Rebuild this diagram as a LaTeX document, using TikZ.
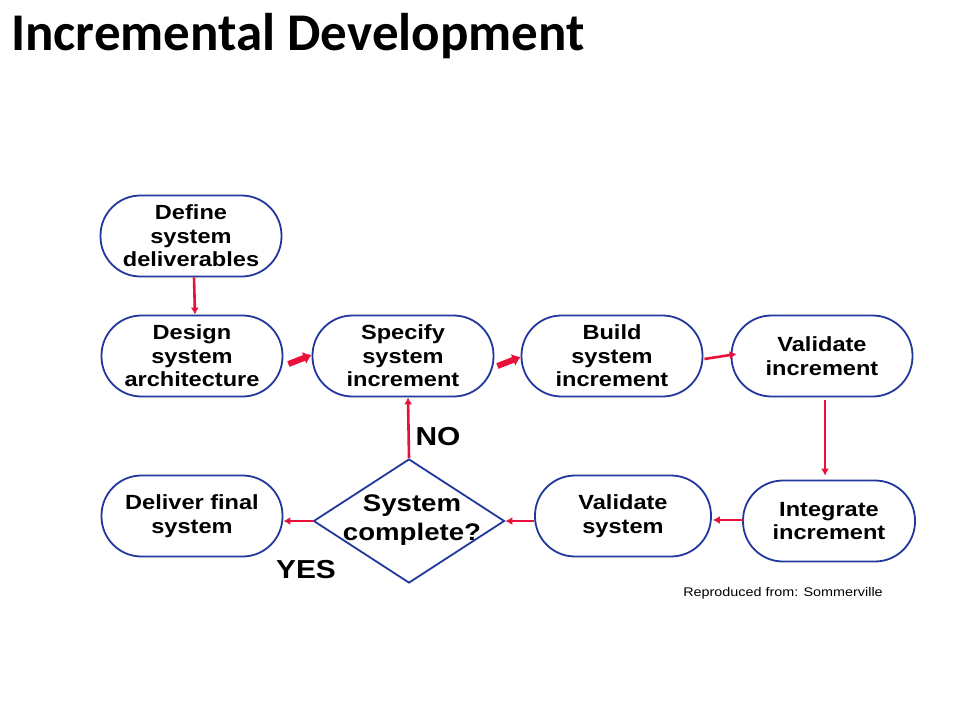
\documentclass[tikz,border=0pt]{standalone}
\usepackage{fontspec}
\setmainfont[FakeStretch=1.15]{Liberation Sans}
\newfontfamily\titlefont{Carlito}
\usetikzlibrary{shapes.geometric,arrows.meta}
\definecolor{boxblue}{RGB}{32,56,156}
\definecolor{arrred}{RGB}{232,17,58}
\tikzset{
  stepbox/.style={draw=boxblue, line width=1.8pt, rounded corners=40pt,
    minimum width=181pt, minimum height=81pt, inner sep=0pt, align=center,
    font=\bfseries\fontsize{20.5}{23.5}\selectfont, fill=white},
  decbox/.style={draw=boxblue, line width=1.8pt, diamond, minimum width=191pt,
    minimum height=124pt, inner sep=0pt},
  thinarr/.style={draw=arrred, line width=2.6pt, -{Latex[length=7pt,width=8pt]}},
  thickarr/.style={draw=arrred, line width=6pt, -{Latex[length=8pt,width=13pt]}},
  lbl/.style={font=\bfseries\fontsize{26}{30}\selectfont}
}
\begin{document}
\begin{tikzpicture}[x=1pt,y=-1pt]
\useasboundingbox (0,0) rectangle (960,720);
\fill[white] (0,0) rectangle (960,720);

\node[anchor=base west, font=\titlefont\bfseries\fontsize{53}{56}\selectfont, inner sep=0pt] (title) at (11,50) {Incremental Development};

\node[stepbox] (define) at (191,236) {Define\\system\\deliverables};
\node[stepbox] (design) at (192,356) {Design\\system\\architecture};
\node[stepbox] (specify) at (403,356) {Specify\\system\\increment};
\node[stepbox] (build) at (612,356) {Build\\system\\increment};
\node[stepbox] (valinc) at (822,356) {Validate\\increment};
\node[stepbox, minimum width=172pt] (integ) at (829,521) {Integrate\\increment};
\node[stepbox, minimum width=176pt] (valsys) at (623,516) {Validate\\system};
\node[stepbox] (deliver) at (192,516) {Deliver final\\system};
\node[decbox] (dec) at (409,521) {};
\node[align=center, font=\bfseries\fontsize{24}{29}\selectfont, inner sep=0pt] (dectext) at (412,520) {System\\complete?};

\node[lbl] (no) at (438,437) {NO};
\node[lbl] (yes) at (306,570) {YES};
\node[font=\fontsize{12.5}{14}\selectfont] (credit) at (783,593) {Reproduced from: Sommerville};

\draw[thinarr] ([xshift=3pt]define.south) -- ([xshift=3pt]design.north);
\draw[thickarr] ([xshift=5pt,yshift=-8pt]design.east) -- ([yshift=1pt]specify.west);
\draw[thickarr] ([xshift=3pt,yshift=-10pt]specify.east) -- ([yshift=-1pt]build.west);
\draw[thinarr] ([xshift=1pt,yshift=-3pt]build.east) -- ([xshift=6pt,yshift=2pt]valinc.west);
\draw[thinarr] ([xshift=3pt,yshift=-3pt]valinc.south) -- ([xshift=-4pt,yshift=4pt]integ.north);
\draw[thinarr] ([xshift=2pt,yshift=1pt]integ.west) -- ([xshift=1pt,yshift=-4pt]valsys.east);
\draw[thinarr] ([yshift=-5pt]valsys.west) -- (dec.east);
\draw[thinarr] (dec.west) -- ([yshift=-5pt]deliver.east);
\draw[thinarr] (dec.north) -- ([xshift=5pt]specify.south);
\end{tikzpicture}
\end{document}
